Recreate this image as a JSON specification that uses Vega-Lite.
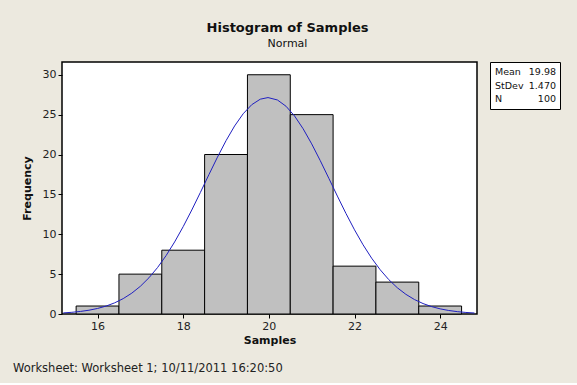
{
  "$schema": "https://vega.github.io/schema/vega-lite/v6.json",
  "autosize": {"type": "pad"},
  "padding": {"left": 13, "top": 21, "right": 25, "bottom": 8},
  "background": "#ECE9DF",
  "bounds": "flush",
  "spacing": 13,
  "config": {
    "font": "DejaVu Sans",
    "axis": {"domain": false, "grid": false, "tickColor": "black", "tickSize": 4, "labelFontSize": 11, "labelColor": "#222222", "labelPadding": 2, "titleFontSize": 11, "titleFontWeight": "bold", "titleColor": "#111111"},
    "title": {"color": "#111111", "subtitleColor": "#111111"}
  },
  "title": {"text": "Worksheet: Worksheet 1; 10/11/2011 16:20:50", "orient": "bottom", "anchor": "start", "frame": "group", "dx": -49, "offset": 17, "fontSize": 11.5, "fontWeight": "normal", "color": "#222222"},
  "datasets": {
    "bins": [
      {"bin_start": 15.5, "bin_end": 16.5, "count": 1},
      {"bin_start": 16.5, "bin_end": 17.5, "count": 5},
      {"bin_start": 17.5, "bin_end": 18.5, "count": 8},
      {"bin_start": 18.5, "bin_end": 19.5, "count": 20},
      {"bin_start": 19.5, "bin_end": 20.5, "count": 30},
      {"bin_start": 20.5, "bin_end": 21.5, "count": 25},
      {"bin_start": 21.5, "bin_end": 22.5, "count": 6},
      {"bin_start": 22.5, "bin_end": 23.5, "count": 4},
      {"bin_start": 23.5, "bin_end": 24.5, "count": 1}
    ],
    "curve": [
      {"x": 15.2, "density": 0.137}, {"x": 15.4, "density": 0.212}, {"x": 15.6, "density": 0.320},
      {"x": 15.8, "density": 0.476}, {"x": 16.0, "density": 0.695}, {"x": 16.2, "density": 0.995},
      {"x": 16.4, "density": 1.399}, {"x": 16.6, "density": 1.930}, {"x": 16.8, "density": 2.614},
      {"x": 17.0, "density": 3.476}, {"x": 17.2, "density": 4.541}, {"x": 17.4, "density": 5.819},
      {"x": 17.6, "density": 7.320}, {"x": 17.8, "density": 9.038}, {"x": 18.0, "density": 10.957},
      {"x": 18.2, "density": 13.038}, {"x": 18.4, "density": 15.231}, {"x": 18.6, "density": 17.470},
      {"x": 18.8, "density": 19.666}, {"x": 19.0, "density": 21.731}, {"x": 19.2, "density": 23.577},
      {"x": 19.4, "density": 25.107}, {"x": 19.6, "density": 26.247}, {"x": 19.8, "density": 26.937},
      {"x": 19.98, "density": 27.14}, {"x": 20.2, "density": 26.838}, {"x": 20.4, "density": 26.055},
      {"x": 20.6, "density": 24.831}, {"x": 20.8, "density": 23.229}, {"x": 21.0, "density": 21.335},
      {"x": 21.2, "density": 19.231}, {"x": 21.4, "density": 17.020}, {"x": 21.6, "density": 14.786},
      {"x": 21.8, "density": 12.612}, {"x": 22.0, "density": 10.558}, {"x": 22.2, "density": 8.677},
      {"x": 22.4, "density": 7.000}, {"x": 22.6, "density": 5.545}, {"x": 22.8, "density": 4.310},
      {"x": 23.0, "density": 3.289}, {"x": 23.2, "density": 2.465}, {"x": 23.4, "density": 1.812},
      {"x": 23.6, "density": 1.309}, {"x": 23.8, "density": 0.927}, {"x": 24.0, "density": 0.645},
      {"x": 24.2, "density": 0.440}, {"x": 24.4, "density": 0.295}, {"x": 24.6, "density": 0.194},
      {"x": 24.8, "density": 0.126}
    ],
    "stats": [
      {"stat": "Mean", "value": "19.98"},
      {"stat": "StDev", "value": "1.470"},
      {"stat": "N", "value": "100"}
    ]
  },
  "hconcat": [
    {
      "width": 415,
      "height": 252,
      "title": {"text": "Histogram of Samples", "subtitle": "Normal", "anchor": "middle", "frame": "group", "dx": 18, "offset": 13, "fontSize": 13, "fontWeight": "bold", "subtitleFontSize": 11, "subtitlePadding": 3},
      "view": {"fill": "white", "stroke": "black", "strokeWidth": 1.5},
      "layer": [
        {
          "data": {"name": "bins"},
          "mark": {"type": "rect", "fill": "#C0C0C0", "stroke": "black", "strokeWidth": 1},
          "encoding": {
            "x": {"field": "bin_start", "type": "quantitative", "scale": {"domain": [15.17, 24.86], "nice": false, "zero": false}, "axis": {"title": "Samples", "values": [16, 18, 20, 22, 24], "titlePadding": 3}},
            "x2": {"field": "bin_end"},
            "y": {"field": "count", "type": "quantitative", "scale": {"domain": [0, 31.6], "nice": false}, "axis": {"title": "Frequency", "values": [0, 5, 10, 15, 20, 25, 30], "titlePadding": 10}},
            "y2": {"datum": 0}
          }
        },
        {
          "data": {"name": "curve"},
          "mark": {"type": "line", "color": "#2020C0", "strokeWidth": 1, "clip": true},
          "encoding": {
            "x": {"field": "x", "type": "quantitative"},
            "y": {"field": "density", "type": "quantitative"}
          }
        }
      ]
    },
    {
      "width": 70,
      "height": 47,
      "view": {"fill": "white", "stroke": "black", "strokeWidth": 1},
      "data": {"name": "stats"},
      "encoding": {
        "y": {"field": "stat", "type": "ordinal", "sort": ["Mean", "StDev", "N"], "scale": {"type": "point", "padding": 0.74}, "axis": null}
      },
      "layer": [
        {
          "mark": {"type": "text", "align": "left", "baseline": "middle", "fontSize": 9.5, "color": "#111111"},
          "encoding": {
            "x": {"datum": "label", "type": "nominal", "scale": {"type": "point", "domain": ["label", "value"], "range": [5, 66], "padding": 0}, "axis": null},
            "text": {"field": "stat"}
          }
        },
        {
          "mark": {"type": "text", "align": "right", "baseline": "middle", "fontSize": 9.5, "color": "#111111"},
          "encoding": {
            "x": {"datum": "value", "type": "nominal"},
            "text": {"field": "value"}
          }
        }
      ]
    }
  ]
}
